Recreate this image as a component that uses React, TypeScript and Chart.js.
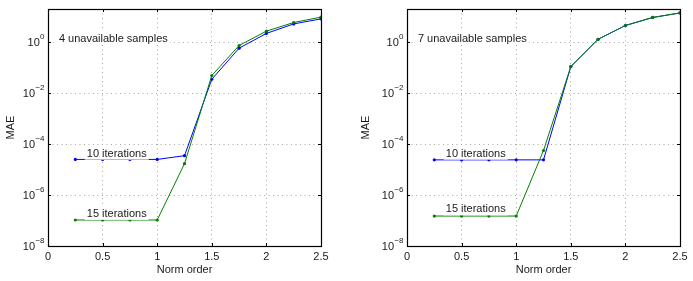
import React, { useEffect, useRef } from "react";
import { Chart, registerables } from "chart.js";
Chart.register(...registerables);

// ---- data ----
const normOrder = [0.25, 0.5, 0.75, 1, 1.25, 1.5, 1.75, 2, 2.25, 2.5];
const left10Iter = [2.5e-5, 2.5e-5, 2.5e-5, 2.5e-5, 3.5e-5, 0.035, 0.58, 2.2, 5.2, 8.2];
const left15Iter = [1.05e-7, 1.05e-7, 1.05e-7, 1.05e-7, 1.7e-5, 0.049, 0.74, 2.7, 5.9, 9.6];
const right10Iter = [2.4e-5, 2.4e-5, 2.4e-5, 2.4e-5, 2.4e-5, 0.11, 1.3, 4.5, 9.3, 14];
const right15Iter = [1.5e-7, 1.5e-7, 1.5e-7, 1.5e-7, 5.6e-5, 0.11, 1.3, 4.5, 9.3, 14];
const xTickValues = [0, 0.5, 1, 1.5, 2, 2.5];
const xTickLabels = ["0", "0.5", "1", "1.5", "2", "2.5"];
const yTickExponents = [-8, -6, -4, -2, 0];
const seriesNames = ["10 iterations", "15 iterations"];
const leftTitle = "4 unavailable samples";
const rightTitle = "7 unavailable samples";
// annotation anchors (data coords)
const leftNotes = [
  { text: leftTitle, x: 0.1, y: 1.5 },
  { text: seriesNames[0], x: 0.355, y: 4.6e-5 },
  { text: seriesNames[1], x: 0.355, y: 2.0e-7 },
];
const rightNotes = [
  { text: rightTitle, x: 0.1, y: 1.5 },
  { text: seriesNames[0], x: 0.355, y: 4.6e-5 },
  { text: seriesNames[1], x: 0.355, y: 3.0e-7 },
];

const FONT = "'Liberation Sans', Arial, Helvetica, sans-serif";
const BLUE = "#0000ff";
const GREEN = "#008000";

function panelPlugin(notes: { text: string; x: number; y: number }[]) {
  return {
    id: "panel",
    afterDatasetsDraw(chart: any) {
      const ctx = chart.ctx;
      const xs = chart.scales.x;
      const ys = chart.scales.y;
      ctx.save();
      ctx.font = `11px ${FONT}`;
      ctx.textBaseline = "alphabetic";
      ctx.textAlign = "left";
      for (const n of notes) {
        const px = xs.getPixelForValue(n.x);
        const py = ys.getPixelForValue(n.y);
        const w = ctx.measureText(n.text).width;
        ctx.fillStyle = "#ffffff";
        ctx.fillRect(px - 2, py - 7, w + 4, 14);
        ctx.fillStyle = "#1a1a1a";
        ctx.fillText(n.text, px, py + 4);
      }
      ctx.restore();
    },
    afterDraw(chart: any) {
      const ctx = chart.ctx;
      const a = chart.chartArea;
      const xs = chart.scales.x;
      const ys = chart.scales.y;
      ctx.save();
      // box
      ctx.strokeStyle = "#000";
      ctx.lineWidth = 1.2;
      ctx.strokeRect(Math.round(a.left) + 0.5, Math.round(a.top) + 0.5, Math.round(a.right - a.left), Math.round(a.bottom - a.top));
      // inward ticks
      ctx.lineWidth = 1;
      ctx.beginPath();
      for (const v of xTickValues) {
        const px = Math.round(xs.getPixelForValue(v)) + 0.5;
        ctx.moveTo(px, a.bottom);
        ctx.lineTo(px, a.bottom - 3);
        ctx.moveTo(px, a.top);
        ctx.lineTo(px, a.top + 3);
      }
      for (const e of yTickExponents) {
        const py = Math.round(ys.getPixelForValue(Math.pow(10, e))) + 0.5;
        ctx.moveTo(a.left, py);
        ctx.lineTo(a.left + 3, py);
        ctx.moveTo(a.right, py);
        ctx.lineTo(a.right - 3, py);
      }
      ctx.stroke();
      // y tick labels with superscripts
      ctx.fillStyle = "#1a1a1a";
      ctx.textBaseline = "alphabetic";
      ctx.textAlign = "left";
      for (const e of yTickExponents) {
        const py = ys.getPixelForValue(Math.pow(10, e));
        const expStr = e === 0 ? "0" : "\u2212" + Math.abs(e);
        ctx.font = `8px ${FONT}`;
        const ew = ctx.measureText(expStr).width;
        ctx.font = `11px ${FONT}`;
        const bw = ctx.measureText("10").width;
        const right = a.left - 3.5;
        const ex = right - ew;
        const bx = ex - bw - 0.3;
        ctx.fillText("10", bx, py + 4);
        ctx.font = `8px ${FONT}`;
        ctx.fillText(expStr, ex, py - 3.5);
      }
      ctx.restore();
    },
  };
}

function Panel(props: {
  left: number;
  width: number;
  axisWidth: number;
  padRight: number;
  titlePad: number;
  s10: number[];
  s15: number[];
  notes: { text: string; x: number; y: number }[];
}) {
  const ref = useRef<HTMLCanvasElement | null>(null);
  useEffect(() => {
    const canvas = ref.current!;
    const chart = new Chart(canvas, {
      type: "line",
      data: {
        datasets: [
          {
            label: seriesNames[0],
            data: normOrder.map((x, i) => ({ x, y: props.s10[i] })),
            borderColor: BLUE,
            backgroundColor: BLUE,
            borderWidth: 1,
            pointRadius: 1.6,
            pointBorderWidth: 0,
            tension: 0,
            order: 1,
          },
          {
            label: seriesNames[1],
            data: normOrder.map((x, i) => ({ x, y: props.s15[i] })),
            borderColor: GREEN,
            backgroundColor: GREEN,
            borderWidth: 1,
            pointRadius: 1.6,
            pointBorderWidth: 0,
            tension: 0,
            order: 0,
          },
        ],
      },
      options: {
        animation: false,
        responsive: false,
        devicePixelRatio: 1,
        layout: { padding: { left: 0, right: props.padRight, top: 9, bottom: 0 } },
        plugins: { legend: { display: false }, tooltip: { enabled: false } },
        scales: {
          x: {
            type: "linear",
            min: 0,
            max: 2.5,
            afterBuildTicks: (s: any) => {
              s.ticks = xTickValues.map((v) => ({ value: v }));
            },
            afterFit: (s: any) => {
              s.height = 35;
            },
            ticks: {
              font: { family: FONT, size: 11 },
              color: "#1a1a1a",
              padding: 4,
              maxRotation: 0,
              autoSkip: false,
              callback: (v: any) => {
                const i = xTickValues.indexOf(Number(v));
                return i >= 0 ? xTickLabels[i] : String(v);
              },
            },
            grid: { color: "#a8a8a8", lineWidth: 1, drawTicks: false },
            border: { display: false, dash: [1, 3.5] },
            title: {
              display: true,
              text: "Norm order",
              font: { family: FONT, size: 11 },
              color: "#1a1a1a",
              padding: { top: 0, bottom: 4 },
            },
          },
          y: {
            type: "logarithmic",
            min: 1e-8,
            max: 20,
            afterBuildTicks: (s: any) => {
              s.ticks = yTickExponents.map((e) => ({ value: Math.pow(10, e) }));
            },
            afterFit: (s: any) => {
              s.width = props.axisWidth;
            },
            ticks: { display: false },
            grid: { color: "#a8a8a8", lineWidth: 1, drawTicks: false },
            border: { display: false, dash: [1, 3.5] },
            title: {
              display: true,
              text: "MAE",
              font: { family: FONT, size: 11 },
              color: "#1a1a1a",
              padding: { top: props.titlePad, bottom: 0 },
            },
          },
        },
      },
      plugins: [panelPlugin(props.notes)],
    } as any);
    return () => chart.destroy();
  }, []);
  return (
    <canvas
      ref={ref}
      width={props.width}
      height={281}
      style={{ position: "absolute", left: props.left, top: 0, width: props.width, height: 281 }}
    />
  );
}

export default function App() {
  return (
    <div style={{ position: "fixed", left: 0, top: 0, width: 693, height: 281, background: "#fff", overflow: "hidden" }}>
      <Panel left={0} width={346} axisWidth={48} padRight={25} titlePad={4} s10={left10Iter} s15={left15Iter} notes={leftNotes} />
      <Panel left={346} width={347} axisWidth={61} padRight={13} titlePad={13} s10={right10Iter} s15={right15Iter} notes={rightNotes} />
    </div>
  );
}
